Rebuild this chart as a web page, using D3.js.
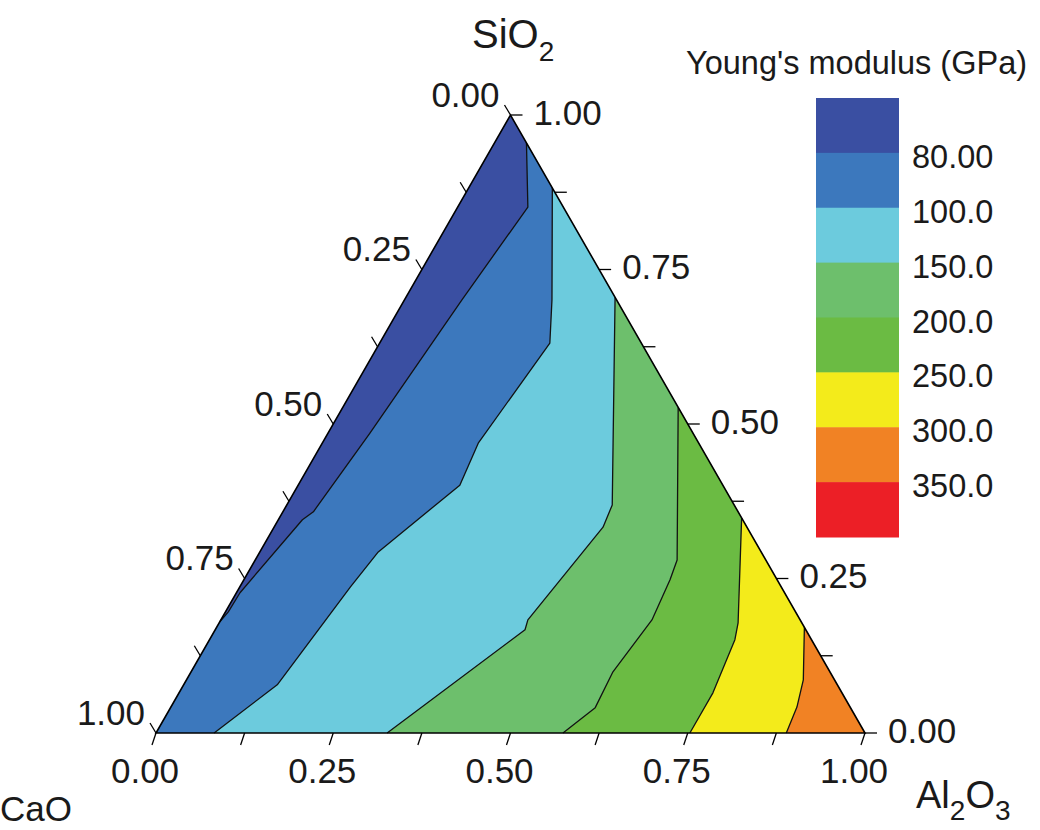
<!DOCTYPE html>
<html>
<head>
<meta charset="utf-8">
<script src="https://cdn.jsdelivr.net/npm/d3@7"></script>
<style>
  body { margin: 0; background: #fff; }
  text { font-family: "Liberation Sans", Arial, sans-serif; fill: #1a1a1a; }
</style>
</head>
<body>
<div id="chart"></div>
<script>
// contour levels (GPa); bands run from below the first level to above the last
var levels = [80, 100, 150, 200, 250, 300, 350];
var levelLabels = ["80.00", "100.0", "150.0", "200.0", "250.0", "300.0", "350.0"];
var bandColors = ["#3a4fa2", "#3c78bd", "#6ccbdd", "#6dbf6c", "#6bbb43", "#f3eb1b", "#f18224", "#ec1f26"];

// axis ticks (fractions)
var majorTicks = [0, 0.25, 0.5, 0.75, 1];
var minorTicks = [0.125, 0.375, 0.625, 0.875];
var tickLabels = ["0.00", "0.25", "0.50", "0.75", "1.00"];

// iso-modulus lines, points as [Al2O3, SiO2]; each starts on the SiO2-Al2O3 side
var line80 = [[0.045, 0.955], [0.099, 0.851], [0.081, 0.701], [0.059, 0.485], [0.043, 0.358],
              [0.034, 0.345], [0.005, 0.227], [0.004, 0.196], [0, 0.18]];
var line100 = [[0.118, 0.882], [0.208, 0.701], [0.240, 0.631], [0.220, 0.469], [0.228, 0.401],
               [0.167, 0.293], [0.156, 0.236], [0.132, 0.078], [0.082, 0]];
var line150 = [[0.295, 0.705], [0.459, 0.369], [0.464, 0.333], [0.433, 0.183], [0.437, 0.167],
               [0.326, 0]];
var line200 = [[0.473, 0.527], [0.595, 0.280], [0.601, 0.248], [0.608, 0.183], [0.595, 0.099],
               [0.599, 0.041], [0.574, 0]];
var line250 = [[0.652, 0.348], [0.732, 0.178], [0.741, 0.151], [0.753, 0.065], [0.753, 0]];
var line300 = [[0.829, 0.171], [0.870, 0.086], [0.883, 0.042], [0.889, 0]];

var isoLines = [line80, line100, line150, line200, line250, line300];

var width = 1040, height = 830;

var svg = d3.select("#chart").append("svg")
    .attr("width", width)
    .attr("height", height);

// ternary -> screen: horizontal position from Al2O3 + SiO2/2, vertical from SiO2
var x = d3.scaleLinear().domain([0, 1]).range([156, 865]);
var y = d3.scaleLinear().domain([0, 1]).range([733, 115]);

function px(p) { return x(p[0] + p[1] / 2); }
function py(p) { return y(p[1]); }

var path = d3.line().x(px).y(py);

var triangle = [[0, 0], [1, 0], [0, 1]];

var plot = svg.append("g");

// lowest band covers the whole triangle
plot.append("path")
    .attr("d", path(triangle) + "Z")
    .style("fill", bandColors[0]);

// each line closes round the Al2O3 corner to give the higher side
isoLines.forEach(function (pts, i) {
    var poly = pts.slice();
    if (pts[pts.length - 1][0] === 0) poly.push([0, 0]);
    poly.push([1, 0]);
    plot.append("path")
        .attr("d", path(poly) + "Z")
        .style("fill", bandColors[i + 1]);
});

isoLines.forEach(function (pts) {
    plot.append("path")
        .attr("d", path(pts))
        .style("fill", "none")
        .style("stroke", "#121212")
        .style("stroke-width", 1.3)
        .style("stroke-linejoin", "round");
});

plot.append("path")
    .attr("d", path(triangle) + "Z")
    .style("fill", "none")
    .style("stroke", "#000")
    .style("stroke-width", 1.6);

// ticks: bottom = Al2O3, right = SiO2, left = CaO
var axes = [
    { pos: function (v) { return [v, 0]; }, dir: [-4, 12] },
    { pos: function (v) { return [1 - v, v]; }, dir: [12, 0] },
    { pos: function (v) { return [0, 1 - v]; }, dir: [-6, -10] }
];

var tickG = svg.append("g")
    .style("stroke", "#000")
    .style("stroke-width", 1.3);

axes.forEach(function (ax) {
    majorTicks.concat(minorTicks).forEach(function (v) {
        var p = ax.pos(v);
        tickG.append("line")
            .attr("x1", px(p)).attr("y1", py(p))
            .attr("x2", px(p) + ax.dir[0]).attr("y2", py(p) + ax.dir[1]);
    });
});

var fs = 35;

majorTicks.forEach(function (v, i) {
    var b = axes[0].pos(v);
    svg.append("text")
        .attr("x", px(b) - 11).attr("y", 783)
        .attr("text-anchor", "middle")
        .style("font-size", fs + "px")
        .text(tickLabels[i]);

    var r = axes[1].pos(v);
    svg.append("text")
        .attr("x", px(r) + 23).attr("y", py(r) - 3)
        .attr("dominant-baseline", "central")
        .style("font-size", fs + "px")
        .text(tickLabels[i]);

    var l = axes[2].pos(v);
    svg.append("text")
        .attr("x", px(l) - 11).attr("y", py(l) - 21)
        .attr("text-anchor", "end")
        .attr("dominant-baseline", "central")
        .style("font-size", fs + "px")
        .text(tickLabels[i]);
});

// axis titles with subscripts
var siTitle = svg.append("text").attr("x", 472).attr("y", 48).style("font-size", "40px");
siTitle.append("tspan").text("SiO");
siTitle.append("tspan").attr("dy", 13).style("font-size", "28px").text("2");

svg.append("text").attr("x", 0).attr("y", 821).style("font-size", "35px").text("CaO");

var alTitle = svg.append("text").attr("x", 916).attr("y", 808).style("font-size", "38px");
alTitle.append("tspan").text("Al");
alTitle.append("tspan").attr("dy", 12).style("font-size", "28px").text("2");
alTitle.append("tspan").attr("dy", -12).text("O");
alTitle.append("tspan").attr("dy", 12).style("font-size", "28px").text("3");

// colour key
var legendY = d3.scaleLinear().domain([0, bandColors.length]).range([98, 537]);
var legend = svg.append("g");

legend.selectAll("rect")
    .data(bandColors)
    .enter().append("rect")
    .attr("x", 816)
    .attr("y", function (d, i) { return legendY(i); })
    .attr("width", 83)
    .attr("height", function (d, i) { return legendY(i + 1) - legendY(i) + 0.5; })
    .style("fill", function (d) { return d; });

legend.selectAll("text.lvl")
    .data(levels)
    .enter().append("text")
    .attr("class", "lvl")
    .attr("x", 912)
    .attr("y", function (d, i) { return legendY(i + 1) + 4; })
    .attr("dominant-baseline", "central")
    .style("font-size", "32.5px")
    .text(function (d, i) { return levelLabels[i]; });

svg.append("text")
    .attr("x", 686).attr("y", 74)
    .style("font-size", "32.5px")
    .text("Young's modulus (GPa)");
</script>
</body>
</html>
